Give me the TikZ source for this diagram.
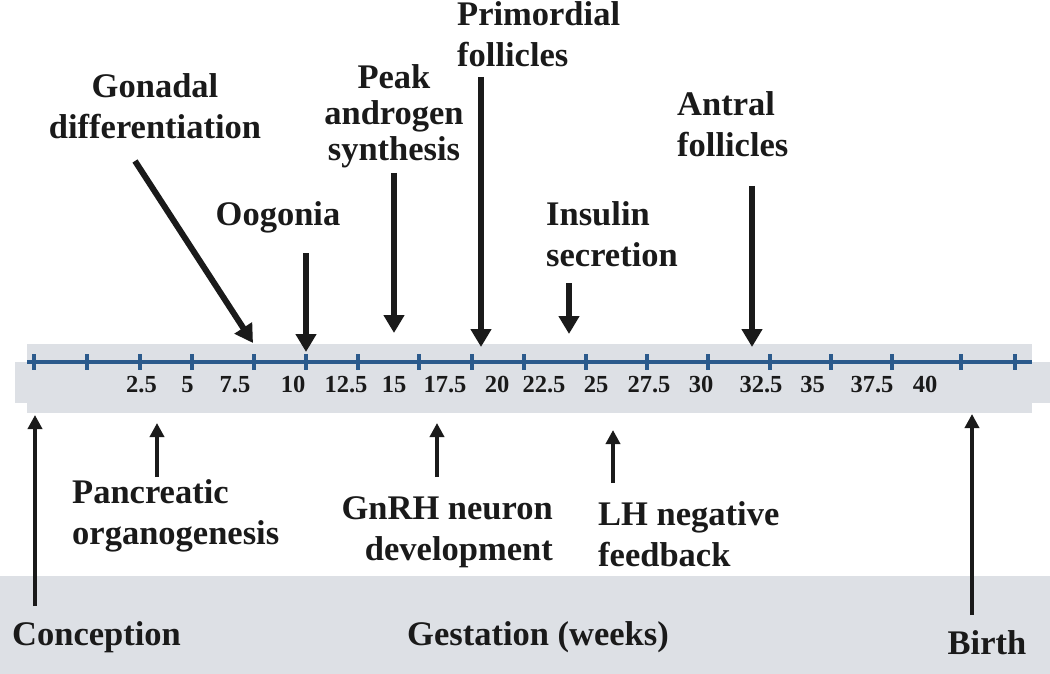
\documentclass[tikz,border=0pt]{standalone}
\usepackage{fontspec}
\setmainfont{Liberation Serif}
\usetikzlibrary{arrows.meta}
\definecolor{bandgrey}{HTML}{DDE0E5}
\definecolor{axisblue}{HTML}{2B5A8C}
\definecolor{arrowblack}{HTML}{1A1A1A}

\begin{document}
\begin{tikzpicture}[x=1pt, y=-1pt,
    % Label styles
    event/.style={inner sep=0pt, font=\fontsize{34.5}{41}\selectfont\bfseries, text=arrowblack},
    weeklabel/.style={inner sep=0pt, anchor=base, font=\fontsize{24.5}{28}\selectfont\bfseries, text=arrowblack},
    % Shapes
    band/.style={fill=bandgrey, draw=none},
    tickmark/.style={draw=axisblue, line width=4pt},
    % Arrow styles
    downarrow/.style={-{Triangle[length=18pt, width=20pt]}, line width=6pt, draw=arrowblack},
    uparrow/.style={-{Triangle[length=14pt, width=14pt]}, line width=4pt, draw=arrowblack},
]
\useasboundingbox (0,0) rectangle (1050,674);

% ============================================================================
% BACKGROUND BANDS
% ============================================================================
\fill[band] (0,576) rectangle (1050,674);
\fill[band] (27,344) rectangle (1032,413);
\fill[band] (15,362) rectangle (1050,403);

% ============================================================================
% TIME AXIS
% ============================================================================
\coordinate (axisstart) at (27,362);
\coordinate (axisend) at (1032,362);
\draw[axisblue, line width=4pt] (axisstart) -- (axisend);
\foreach \tx in {34,87,140,192,254,306,358,419,472,524,586,647,708,770,831,892,961,1015}
    \draw[tickmark] (\tx,354) -- (\tx,370);

% Week numbers
\foreach \tx/\wk [count=\i] in {141.5/2.5, 187.5/5, 235/7.5, 293/10, 346/12.5, 394/15, 445/17.5, 497/20,
        544/22.5, 596/25, 649/27.5, 701/30, 761/32.5, 812.5/35, 872/37.5, 925/40}
    \node[weeklabel] (wk\i) at (\tx,392.5) {\wk};

% ============================================================================
% EVENTS ABOVE THE AXIS
% ============================================================================
\node[event, align=center, anchor=north] (gonadal) at (155,73.5) {Gonadal\\differentiation};
\node[event, anchor=base] (oogonia) at (278,225) {Oogonia};
\node[event, align=center, anchor=north, font=\fontsize{34.5}{36}\selectfont\bfseries] (androgen) at (394,64.5) {Peak\\androgen\\synthesis};
\node[event, align=left, anchor=north west] (primordial) at (457,1.5) {Primordial\\follicles};
\node[event, align=left, anchor=north west] (insulin) at (546,201.5) {Insulin\\secretion};
\node[event, align=left, anchor=north west] (antral) at (677,91.5) {Antral\\follicles};

\coordinate (gonadal-s) at (135,161);   \coordinate (gonadal-e) at (253,343);
\coordinate (oogonia-s) at (306,253);   \coordinate (oogonia-e) at (306,352);
\coordinate (androgen-s) at (394,173);  \coordinate (androgen-e) at (394,333);
\coordinate (primordial-s) at (481,77); \coordinate (primordial-e) at (481,347);
\coordinate (insulin-s) at (569,283);   \coordinate (insulin-e) at (569,334);
\coordinate (antral-s) at (752,186);    \coordinate (antral-e) at (752,347);

\draw[downarrow] (gonadal-s) -- (gonadal-e);
\draw[downarrow] (oogonia-s) -- (oogonia-e);
\draw[downarrow] (androgen-s) -- (androgen-e);
\draw[downarrow] (primordial-s) -- (primordial-e);
\draw[downarrow] (insulin-s) -- (insulin-e);
\draw[downarrow] (antral-s) -- (antral-e);

% ============================================================================
% EVENTS BELOW THE AXIS
% ============================================================================
\node[event, align=left, anchor=north west] (pancreas) at (72,479.5) {Pancreatic\\organogenesis};
\node[event, align=right, anchor=north east] (gnrh) at (553,496.5) {GnRH neuron\\development};
\node[event, align=left, anchor=north west] (lhfeedback) at (598,501.5) {LH negative\\feedback};

\coordinate (pancreas-s) at (157,477);  \coordinate (pancreas-e) at (157,423);
\coordinate (gnrh-s) at (437,477);      \coordinate (gnrh-e) at (437,423);
\coordinate (lhfeedback-s) at (613,483); \coordinate (lhfeedback-e) at (613,430);

\draw[uparrow] (pancreas-s) -- (pancreas-e);
\draw[uparrow] (gnrh-s) -- (gnrh-e);
\draw[uparrow] (lhfeedback-s) -- (lhfeedback-e);

% ============================================================================
% GESTATION
% ============================================================================
\node[event, anchor=base west] (conception) at (12,645) {Conception};
\node[event, anchor=base] (gestation) at (538,645) {Gestation (weeks)};
\node[event, anchor=base] (birth) at (987,654) {Birth};

\coordinate (conception-s) at (35,606); \coordinate (conception-e) at (35,415);
\coordinate (birth-s) at (972,615);     \coordinate (birth-e) at (972,414);

\draw[uparrow] (conception-s) -- (conception-e);
\draw[uparrow] (birth-s) -- (birth-e);

\end{tikzpicture}
\end{document}
